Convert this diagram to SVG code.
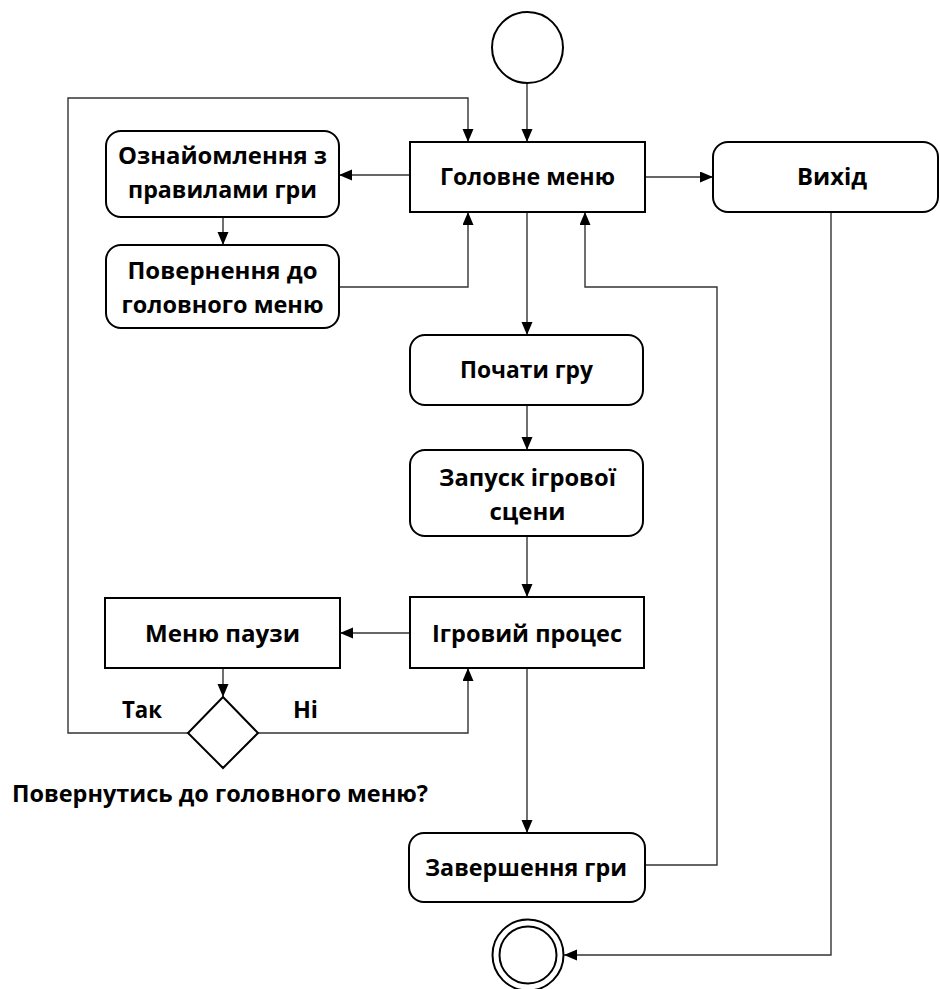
<svg xmlns="http://www.w3.org/2000/svg" width="940" height="989" viewBox="0 0 940 989">
  <style>
    .box { fill: #ffffff; stroke: #000000; stroke-width: 2; }
    .edge { fill: none; stroke: #333333; stroke-width: 1.4; }
    .lbl { font-family: "Open Sans", "Noto Sans", "DejaVu Sans", sans-serif; font-weight: 700; font-size: 24px; fill: #000000; text-anchor: middle; }
    .free { font-family: "Open Sans", "Noto Sans", "DejaVu Sans", sans-serif; font-weight: 700; font-size: 24px; fill: #000000; }
  </style>
  <defs>
    <marker id="arrow" markerUnits="userSpaceOnUse" markerWidth="14" markerHeight="12" refX="13" refY="5.5" orient="auto">
      <path d="M0,0 L13,5.5 L0,11 Z" fill="#000000"/>
    </marker>
  </defs>

  <rect width="940" height="989" fill="#ffffff"/>

  <!-- connectors -->
  <g id="connectors">
    <path class="edge" d="M527,83 L527,142" marker-end="url(#arrow)"/>
    <path class="edge" d="M188,733 L68,733 L68,98 L468,98 L468,142" marker-end="url(#arrow)"/>
    <path class="edge" d="M410,175 L339,175" marker-end="url(#arrow)"/>
    <path class="edge" d="M645,177 L713,177" marker-end="url(#arrow)"/>
    <path class="edge" d="M223,217 L223,245" marker-end="url(#arrow)"/>
    <path class="edge" d="M339,287 L468,287 L468,212" marker-end="url(#arrow)"/>
    <path class="edge" d="M527,212 L527,335" marker-end="url(#arrow)"/>
    <path class="edge" d="M527,405 L527,450" marker-end="url(#arrow)"/>
    <path class="edge" d="M527,536 L527,597" marker-end="url(#arrow)"/>
    <path class="edge" d="M410,633 L340,633" marker-end="url(#arrow)"/>
    <path class="edge" d="M223,668 L223,697" marker-end="url(#arrow)"/>
    <path class="edge" d="M258,733 L468,733 L468,668" marker-end="url(#arrow)"/>
    <path class="edge" d="M527,668 L527,833" marker-end="url(#arrow)"/>
    <path class="edge" d="M645,865 L717,865 L717,287 L585,287 L585,212" marker-end="url(#arrow)"/>
    <path class="edge" d="M831,212 L831,955 L564,955" marker-end="url(#arrow)"/>
  </g>

  <!-- start -->
  <g id="start">
    <circle class="box" cx="527.5" cy="47.5" r="35.5"/>
  </g>

  <g id="main-menu">
    <rect class="box" x="410" y="142" width="235" height="70"/>
    <text class="lbl" x="527.5" y="185" textLength="175" lengthAdjust="spacingAndGlyphs">Головне меню</text>
  </g>

  <g id="rules">
    <rect class="box" x="106" y="131" width="233" height="86" rx="15" ry="15"/>
    <text class="lbl" x="222.5" y="164" textLength="209" lengthAdjust="spacingAndGlyphs">Ознайомлення з</text>
    <text class="lbl" x="222.5" y="198" textLength="189" lengthAdjust="spacingAndGlyphs">правилами гри</text>
  </g>

  <g id="back-to-menu">
    <rect class="box" x="106" y="245" width="233" height="83" rx="15" ry="15"/>
    <text class="lbl" x="222.5" y="279" textLength="190" lengthAdjust="spacingAndGlyphs">Повернення до</text>
    <text class="lbl" x="222.5" y="313" textLength="202" lengthAdjust="spacingAndGlyphs">головного меню</text>
  </g>

  <g id="exit">
    <rect class="box" x="713" y="142" width="225" height="70" rx="15" ry="15"/>
    <text class="lbl" x="832" y="185" textLength="70" lengthAdjust="spacingAndGlyphs">Вихід</text>
  </g>

  <g id="start-game">
    <rect class="box" x="410" y="335" width="233" height="70" rx="15" ry="15"/>
    <text class="lbl" x="526.5" y="378" textLength="133" lengthAdjust="spacingAndGlyphs">Почати гру</text>
  </g>

  <g id="load-scene">
    <rect class="box" x="410" y="450" width="233" height="86" rx="15" ry="15"/>
    <text class="lbl" x="527.5" y="486" textLength="177" lengthAdjust="spacingAndGlyphs">Запуск ігрової</text>
    <text class="lbl" x="527.5" y="520" textLength="76" lengthAdjust="spacingAndGlyphs">сцени</text>
  </g>

  <g id="gameplay">
    <rect class="box" x="410" y="597" width="234" height="71"/>
    <text class="lbl" x="527" y="642" textLength="190" lengthAdjust="spacingAndGlyphs">Ігровий процес</text>
  </g>

  <g id="pause-menu">
    <rect class="box" x="105" y="598" width="235" height="70"/>
    <text class="lbl" x="222.5" y="642" textLength="155" lengthAdjust="spacingAndGlyphs">Меню паузи</text>
  </g>

  <g id="decision">
    <polygon class="box" points="223,697 258,733 223,768 188,733"/>
    <text class="free" x="122" y="718" textLength="40" lengthAdjust="spacingAndGlyphs">Так</text>
    <text class="free" x="293" y="718" textLength="25" lengthAdjust="spacingAndGlyphs">Ні</text>
    <text class="free" x="12" y="802" textLength="416" lengthAdjust="spacingAndGlyphs">Повернутись до головного меню?</text>
  </g>

  <g id="game-over">
    <rect class="box" x="409" y="833" width="236" height="69" rx="15" ry="15"/>
    <text class="lbl" x="526" y="876" textLength="202" lengthAdjust="spacingAndGlyphs">Завершення гри</text>
  </g>

  <g id="end">
    <circle class="box" cx="528" cy="955" r="35.5"/>
    <circle class="box" cx="528" cy="955" r="28.5"/>
  </g>
</svg>
